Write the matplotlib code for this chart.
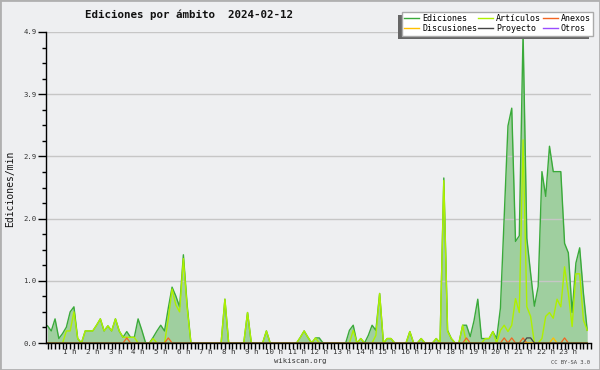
"""
Ediciones por ámbito 2024-02-12 (wikiscan style), 10-minute bins.
"""
import matplotlib
matplotlib.use("Agg")
import matplotlib.pyplot as plt
import numpy as np
from matplotlib.lines import Line2D
from matplotlib.patches import Rectangle

plt.rcParams["font.family"] = ["DejaVu Sans Mono", "DejaVu Sans"]

# ── Data (edits/min, one value per 10-minute bin, 144 bins) ──────────────────
bin_minutes = np.arange(0, 1440, 10)

ediciones = [
    0.27, 0.19, 0.38, 0.07, 0.15, 0.25, 0.49, 0.57, 0.07, 0.00, 0.19, 0.19,   # 0-2h
    0.19, 0.28, 0.38, 0.19, 0.27, 0.19, 0.38, 0.19, 0.09, 0.18, 0.09, 0.09,   # 2-4h
    0.38, 0.20, 0.00, 0.00, 0.09, 0.19, 0.28, 0.19, 0.55, 0.88, 0.74, 0.57,   # 4-6h
    1.39, 0.60, 0.00, 0.00, 0.00, 0.00, 0.00, 0.00, 0.00, 0.00, 0.00, 0.69,   # 6-8h
    0.00, 0.00, 0.00, 0.00, 0.00, 0.48, 0.00, 0.00, 0.00, 0.00, 0.19, 0.00,   # 8-10h
    0.00, 0.00, 0.00, 0.00, 0.00, 0.00, 0.00, 0.09, 0.19, 0.09, 0.00, 0.08,   # 10-12h
    0.08, 0.00, 0.00, 0.00, 0.00, 0.00, 0.00, 0.00, 0.20, 0.28, 0.00, 0.07,   # 12-14h
    0.00, 0.12, 0.28, 0.20, 0.78, 0.00, 0.07, 0.07, 0.00, 0.00, 0.00, 0.00,   # 14-16h
    0.18, 0.00, 0.00, 0.07, 0.00, 0.00, 0.00, 0.07, 0.00, 2.60, 0.20, 0.07,   # 16-18h
    0.00, 0.00, 0.28, 0.28, 0.10, 0.35, 0.69, 0.07, 0.07, 0.07, 0.18, 0.07,   # 18-20h
    0.55, 2.00, 3.42, 3.70, 1.60, 1.69, 4.90, 1.65, 1.10, 0.58, 0.89, 2.70,   # 20-22h
    2.31, 3.10, 2.70, 2.70, 2.70, 1.57, 1.42, 0.48, 1.26, 1.50, 0.78, 0.20,   # 22-24h
]
articulos = [
    0.00, 0.00, 0.00, 0.00, 0.00, 0.19, 0.19, 0.49, 0.07, 0.00, 0.19, 0.19,
    0.19, 0.28, 0.38, 0.19, 0.27, 0.19, 0.38, 0.19, 0.09, 0.09, 0.09, 0.09,
    0.00, 0.00, 0.00, 0.00, 0.07, 0.00, 0.00, 0.00, 0.38, 0.85, 0.60, 0.49,
    1.33, 0.55, 0.00, 0.00, 0.00, 0.00, 0.00, 0.00, 0.00, 0.00, 0.00, 0.69,
    0.00, 0.00, 0.00, 0.00, 0.00, 0.48, 0.00, 0.00, 0.00, 0.00, 0.19, 0.00,
    0.00, 0.00, 0.00, 0.00, 0.00, 0.00, 0.00, 0.09, 0.19, 0.09, 0.00, 0.08,
    0.00, 0.00, 0.00, 0.00, 0.00, 0.00, 0.00, 0.00, 0.00, 0.20, 0.00, 0.07,
    0.00, 0.00, 0.00, 0.12, 0.78, 0.00, 0.07, 0.07, 0.00, 0.00, 0.00, 0.00,
    0.18, 0.00, 0.00, 0.07, 0.00, 0.00, 0.00, 0.07, 0.00, 2.56, 0.18, 0.07,
    0.00, 0.00, 0.28, 0.00, 0.00, 0.00, 0.00, 0.00, 0.07, 0.07, 0.18, 0.00,
    0.20, 0.28, 0.18, 0.28, 0.70, 0.48, 3.20, 0.57, 0.42, 0.00, 0.00, 0.07,
    0.42, 0.48, 0.39, 0.69, 0.57, 1.20, 0.78, 0.26, 1.09, 1.09, 0.36, 0.20,
]
anexos = [0.0] * 144
for i in (21, 32, 111, 121, 123, 126, 137):
    anexos[i] = 0.08
discusiones = [0.0] * 144
discusiones[134] = 0.08
proyecto = [0.0] * 144
proyecto[127] = 0.08
proyecto[128] = 0.08
otros = [0.0] * 144

y_ticks = [0.0, 0.98, 1.96, 2.94, 3.92, 4.9]
y_labels = ["0.0", "1.0", "2.0", "2.9", "3.9", "4.9"]
hours = list(range(1, 24))

# ── Style ────────────────────────────────────────────────────────────────────
BG = "#eeeff1"
C_ED_LINE = "#3aaa3a"
C_ED_FILL = "#9fcf9f"
C_ART = "#aef000"
C_ANE = "#f26522"
C_DIS = "#ffc000"
C_PRO = "#444444"
C_OTR = "#9a4dff"
GRID = "#c6c6c6"

W, H, DPI = 600, 370, 100
fig = plt.figure(figsize=(W / DPI, H / DPI), dpi=DPI)
fig.patch.set_facecolor(BG)

L, R, T, B = 46, 591, 32, 343
ax = fig.add_axes([L / W, 1 - B / H, (R - L) / W, (B - T) / H])
ax.set_facecolor(BG)

ax.fill_between(bin_minutes, 0, ediciones, color=C_ED_FILL, lw=0, zorder=1)
for y in y_ticks[1:]:
    ax.axhline(y, color=GRID, lw=1, zorder=1.5)
ax.plot(bin_minutes, ediciones, color=C_ED_LINE, lw=1.0, zorder=2)
ax.plot(bin_minutes, articulos, color=C_ART, lw=1.0, zorder=3)
ax.plot(bin_minutes, anexos, color=C_ANE, lw=0.9, zorder=4)
ax.plot(bin_minutes, discusiones, color=C_DIS, lw=0.9, zorder=4)
ax.plot(bin_minutes, proyecto, color=C_PRO, lw=0.9, zorder=4)

ax.set_xlim(-4, 1436)
ax.set_ylim(0, 4.9)

for side in ("top", "right"):
    ax.spines[side].set_visible(False)
for side in ("left", "bottom"):
    ax.spines[side].set_color("black")
    ax.spines[side].set_linewidth(1.0)
    ax.spines[side].set_zorder(6)

ax.set_yticks(y_ticks)
ax.set_yticklabels(y_labels)
ax.set_yticks(np.arange(0, 4.91, 0.245), minor=True)
ax.set_xticks([h * 60 for h in hours])
ax.set_xticklabels([f"{h} h" for h in hours])
ax.set_xticks(np.arange(0, 1441, 10), minor=True)
ax.tick_params(axis="y", which="major", length=6, width=1, pad=1,
               labelsize=5.2, colors="black", labelcolor="#333333")
ax.tick_params(axis="y", which="minor", length=3, width=1)
ax.tick_params(axis="x", which="both", length=4, width=1, direction="out")
ax.tick_params(axis="x", which="major", pad=0.5, labelsize=5.4,
               labelcolor="#333333")

# ── Texts ────────────────────────────────────────────────────────────────────
fig.text(85 / W, 1 - 18.5 / H, "Ediciones por ámbito  2024-02-12",
         ha="left", va="baseline", fontsize=7.8, fontweight="bold", color="#111111")
fig.text(10 / W, 1 - 189 / H, "Ediciones/min", rotation=90,
         ha="center", va="center", fontsize=7, color="#111111")
fig.text(300 / W, 1 - 361 / H, "wikiscan.org", ha="center", va="center",
         fontsize=5.2, color="#333333")
fig.text(590 / W, 1 - 362 / H, "CC BY-SA 3.0", ha="right", va="center",
         fontsize=4, color="#444444")

# ── Legend ───────────────────────────────────────────────────────────────────
handles = [
    Line2D([], [], color=C_ED_LINE, lw=1, label="Ediciones"),
    Line2D([], [], color=C_DIS, lw=1, label="Discusiones"),
    Line2D([], [], color=C_ART, lw=1, label="Artículos"),
    Line2D([], [], color=C_PRO, lw=1, label="Proyecto"),
    Line2D([], [], color=C_ANE, lw=1, label="Anexos"),
    Line2D([], [], color=C_OTR, lw=1, label="Otros"),
]
leg = ax.legend(handles=handles, ncol=3, loc="upper right",
                bbox_to_anchor=(593 / W, 1 - 11.7 / H), bbox_transform=fig.transFigure,
                fontsize=6.0, frameon=True, fancybox=False, framealpha=1,
                facecolor="white", edgecolor="#aaaaaa", borderpad=0.3,
                handlelength=1.8, handletextpad=0.35, columnspacing=0.15,
                labelspacing=0.12, borderaxespad=0)
leg.set_zorder(10)
leg.get_frame().set_linewidth(1)

fig.canvas.draw()
bb = leg.get_window_extent()
shadow = Rectangle((bb.x0 - 4, bb.y0 - 3), bb.width, bb.height, transform=None,
                   facecolor="#666666", edgecolor="none", zorder=9, clip_on=False)
ax.add_artist(shadow)

fig.patches.append(Rectangle((0, 0), 1, 1, transform=fig.transFigure, fill=False,
                             edgecolor="#b0b0b0", lw=2))

fig.savefig("out.png", dpi=DPI, facecolor=BG)
